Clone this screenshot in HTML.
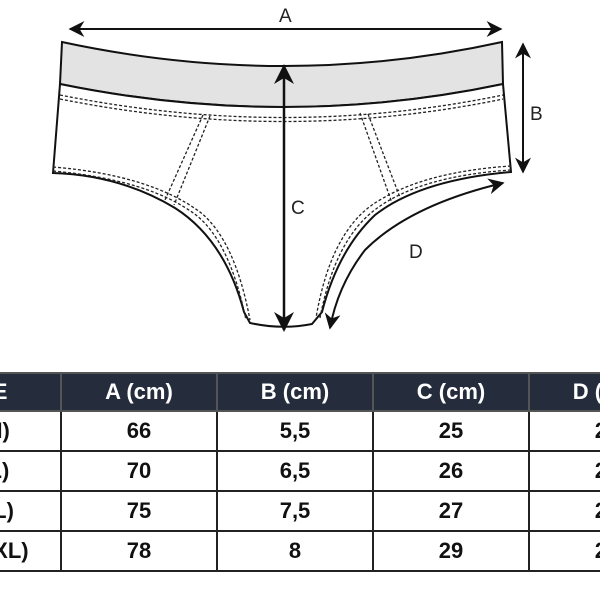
<!DOCTYPE html>
<html><head><style>
body{margin:0;width:600px;height:600px;background:#fff;overflow:hidden;position:relative;font-family:"Liberation Sans","DejaVu Sans",sans-serif}
svg{position:absolute;left:0;top:0}
#wrap{position:absolute;left:0;top:372px;width:600px;height:210px;overflow:hidden}
table{position:absolute;left:-96px;top:0;border-collapse:collapse;width:780px;table-layout:fixed}
td,th{border:2px solid #222;text-align:center;font-weight:bold;font-size:22px;color:#111;height:38px;padding:0}
th{background:#252d3d;color:#fff;border-color:#555;height:36px}
</style></head><body>
<svg width="600" height="370" viewBox="0 0 600 370">
<defs><marker id="ar" viewBox="0 0 10 10" refX="9" refY="5" markerWidth="8" markerHeight="8" orient="auto-start-reverse"><path d="M0,0 L10,5 L0,10 L3,5z" fill="#111"/></marker></defs>
<path d="M62,42 Q285,90 502,42 L503,84 Q285,130 60,84 Z" fill="#e3e3e3" stroke="#111" stroke-width="2"/>
<path d="M60,84 Q285,130 503,84 L511,172 Q420,180 375,215 Q338,250 322,312 L312,324 Q282,330 250,323 L244,312 Q225,240 175,208 Q120,175 53,173 Z" fill="#fff" stroke="#111" stroke-width="2"/>
<g fill="none" stroke="#222" stroke-width="1.3" stroke-dasharray="3,2">
<path d="M60,95 Q285,140 503,95"/><path d="M60,99 Q285,144 503,99"/>
<path d="M53,167 Q150,175 200,212 Q235,240 250,320"/><path d="M53,171 Q150,180 196,215 Q230,242 246,320"/>
<path d="M511,166 Q420,172 372,205 Q330,235 316,318"/><path d="M511,170 Q420,176 376,209 Q335,239 320,318"/>
<path d="M203,115 L165,200"/><path d="M210,116 L174,205"/>
<path d="M360,113 L392,203"/><path d="M368,114 L401,200"/>
</g>
<line x1="70" y1="29" x2="501" y2="29" stroke="#111" stroke-width="2" marker-start="url(#ar)" marker-end="url(#ar)"/>
<line x1="523" y1="44" x2="523" y2="172" stroke="#111" stroke-width="2" marker-start="url(#ar)" marker-end="url(#ar)"/>
<line x1="284" y1="66" x2="284" y2="330" stroke="#111" stroke-width="2.5" marker-start="url(#ar)" marker-end="url(#ar)"/>
<path d="M503,183 Q410,205 365,250 Q338,285 330,328" fill="none" stroke="#111" stroke-width="2" marker-start="url(#ar)" marker-end="url(#ar)"/>
<g font-size="19" fill="#222"><text x="279" y="22">A</text><text x="530" y="120">B</text><text x="291" y="214">C</text><text x="409" y="258">D</text></g>
</svg>
<div id="wrap">
<table><colgroup><col style="width:156px"><col style="width:156px"><col style="width:156px"><col style="width:156px"><col style="width:156px"></colgroup>
<tr><th>SIZE</th><th>A (cm)</th><th>B (cm)</th><th>C (cm)</th><th>D (cm)</th></tr>
<tr><td>S (M)</td><td>66</td><td>5,5</td><td>25</td><td>20</td></tr>
<tr><td>M (L)</td><td>70</td><td>6,5</td><td>26</td><td>21</td></tr>
<tr><td>L (XL)</td><td>75</td><td>7,5</td><td>27</td><td>22</td></tr>
<tr><td>XL (XXL)</td><td>78</td><td>8</td><td>29</td><td>23</td></tr>
</table>
</div>
</body></html>
